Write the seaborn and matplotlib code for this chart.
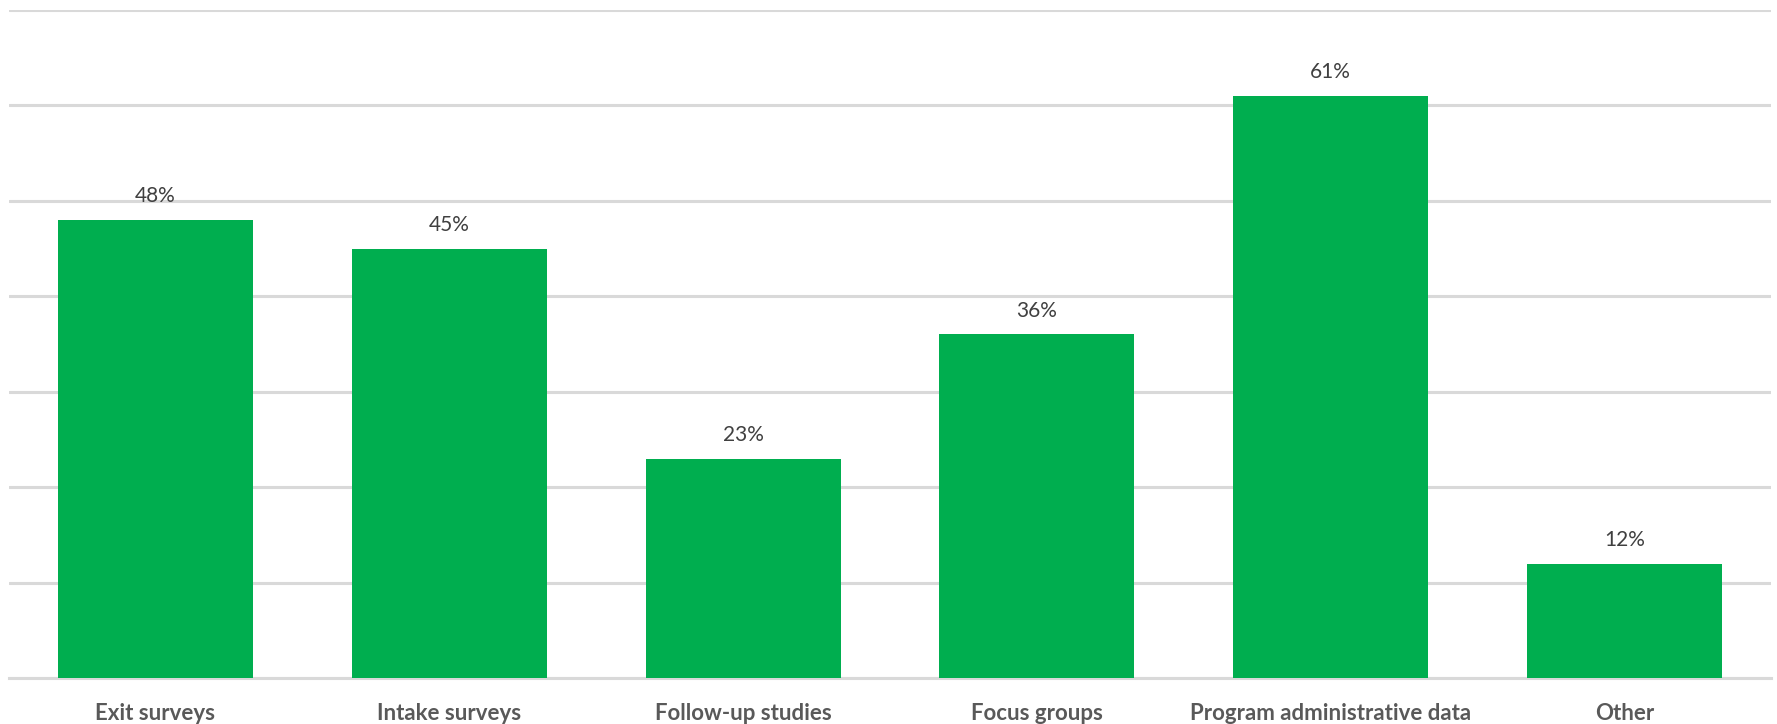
import matplotlib
matplotlib.use("Agg")
import matplotlib.pyplot as plt
import seaborn as sns
import pandas as pd

categories = ["Exit surveys", "Intake surveys", "Follow-up studies", "Focus groups",
              "Program administrative data", "Other"]
values = [48, 45, 23, 36, 61, 12]

sns.set_theme(style="white")
plt.rcParams['font.family'] = ['Lato', 'DejaVu Sans']

df = pd.DataFrame({"cat": categories, "val": values})

fig = plt.figure(figsize=(17.77, 7.24), dpi=100)
ax = fig.add_axes([0.00484, 0.0635, 0.99196, 0.9227])
sns.barplot(data=df, x="cat", y="val", color="#00AE4F", saturation=1, width=0.664, ax=ax,
            edgecolor="none", zorder=3)
ax.set_ylim(0, 70)
ax.set_xlim(-0.5, len(categories) - 0.5)
ax.set_yticks(range(0, 71, 10))
ax.yaxis.grid(True, color="#d9d9d9", linewidth=2.2, zorder=0)
ax.set_axisbelow(True)
ax.tick_params(axis='y', left=False, labelleft=False)
ax.tick_params(axis='x', bottom=False, pad=12, labelsize=16, labelcolor="#595959")
for lbl in ax.get_xticklabels():
    lbl.set_fontweight("bold")
for s in ["top", "right", "left"]:
    ax.spines[s].set_visible(False)
ax.spines["bottom"].set_color("#d9d9d9")
ax.spines["bottom"].set_linewidth(2.2)
ax.set_xlabel("")
ax.set_ylabel("")
for c in ax.containers:
    ax.bar_label(c, labels=[f"{v:.0f}%" for v in c.datavalues], padding=10,
                 fontsize=15, color="#404040")
fig.savefig("out.png", dpi=100)
